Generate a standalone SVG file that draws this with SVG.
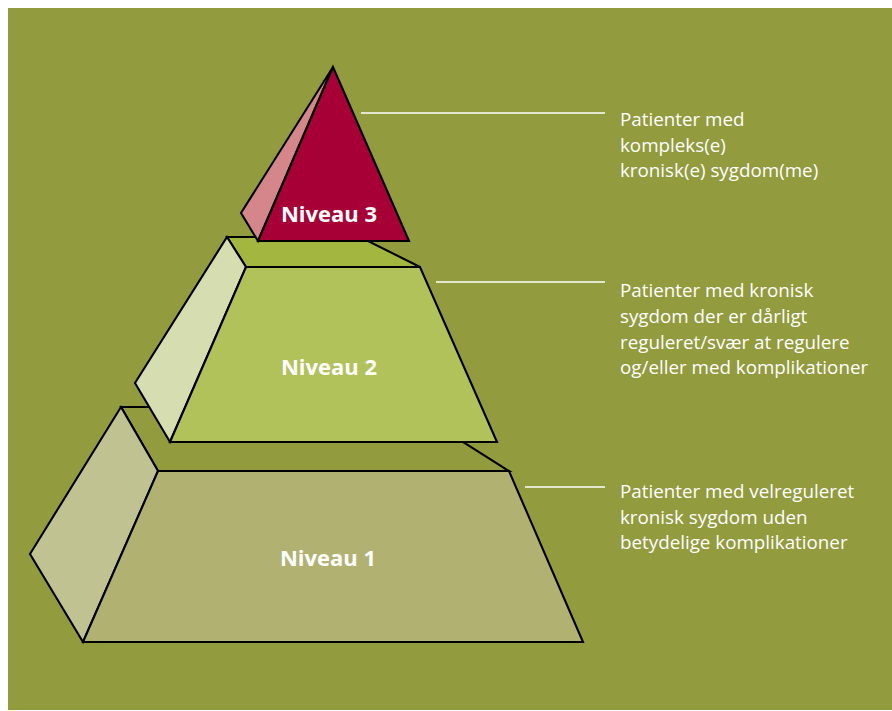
<svg xmlns="http://www.w3.org/2000/svg" width="892" height="711" viewBox="0 0 892 711">
<style>
.edge{stroke:#000;stroke-width:2.1;stroke-linejoin:miter}
.lvl{font-family:"Open Sans","Liberation Sans",sans-serif;font-weight:bold;font-size:22px;fill:#fff;text-anchor:middle}
.desc{font-family:"Open Sans","Liberation Sans",sans-serif;font-size:18.8px;fill:#fff}
.lead{stroke:#fff;stroke-width:1.3}
</style>
<rect x="0" y="0" width="892" height="711" fill="#fff"/>
<rect x="8" y="8" width="884" height="702" fill="#929b3e"/>

<g id="niveau1">
<polygon class="edge" points="121,407 408,407 509,471 158,471" fill="#929b3e"/>
<polygon class="edge" points="121,407 158,471 83,642 30,554" fill="#c1c291"/>
<polygon class="edge" points="158,471 509,471 583,642 83,642" fill="#b1b272"/>
<text class="lvl" x="328" y="566">Niveau 1</text>
</g>

<g id="niveau2">
<polygon class="edge" points="227,237 360,237 420,267 246,267" fill="#a3b63f"/>
<polygon class="edge" points="227,237 246,267 170,442 135,383" fill="#d6ddb0"/>
<polygon class="edge" points="246,267 420,267 497,442 170,442" fill="#b1c25a"/>
<text class="lvl" x="329" y="375">Niveau 2</text>
</g>

<g id="niveau3">
<polygon class="edge" points="333,67 241,213 258,241" fill="#d4868a"/>
<polygon class="edge" points="333,67 409,241 258,241" fill="#a60037"/>
<text class="lvl" x="329" y="222">Niveau 3</text>
</g>

<g id="connectors">
<line class="lead" x1="361" y1="113" x2="605" y2="113"/>
<line class="lead" x1="436" y1="282" x2="605" y2="282"/>
<line class="lead" x1="525" y1="487" x2="605" y2="487" stroke="#e6e6cc"/>
</g>

<g id="label3">
<text class="desc" x="620" y="126">Patienter med</text>
<text class="desc" x="620" y="151.5">kompleks(e)</text>
<text class="desc" x="620" y="177">kronisk(e) sygdom(me)</text>
</g>
<g id="label2">
<text class="desc" x="620" y="297">Patienter med kronisk</text>
<text class="desc" x="620" y="322.5">sygdom der er dårligt</text>
<text class="desc" x="620" y="348.5">reguleret/svær at regulere</text>
<text class="desc" x="620" y="374">og/eller med komplikationer</text>
</g>
<g id="label1">
<text class="desc" x="620" y="498">Patienter med velreguleret</text>
<text class="desc" x="620" y="523.5">kronisk sygdom uden</text>
<text class="desc" x="620" y="549">betydelige komplikationer</text>
</g>
</svg>
